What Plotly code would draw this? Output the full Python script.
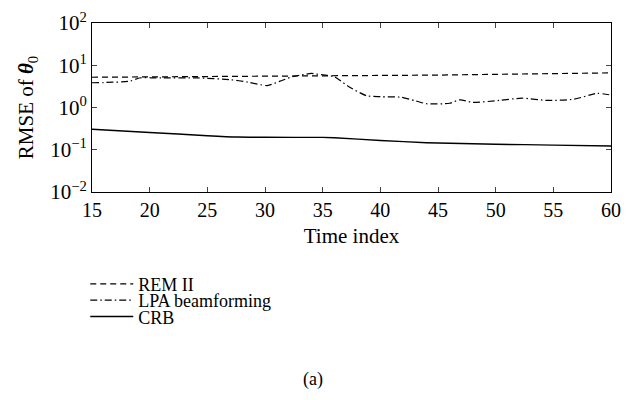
import plotly.graph_objects as go

t_rem = [15, 20, 25, 30, 35, 40, 45, 50, 55, 60]
rem = [5.2, 5.3, 5.35, 5.45, 5.5, 5.65, 5.85, 6.1, 6.35, 6.6]

t_lpa = [15, 16, 18.3, 19.1, 21, 24.2, 27, 28.5, 30.2, 31.3, 32.4, 33.2, 34.0, 35, 36, 37.2, 38.8,
         40, 41.8, 43, 44, 46, 46.9, 48, 50.3, 52.3, 54.5, 56.8, 58.8, 60]
lpa = [3.85, 3.9, 4.2, 5.0, 5.0, 5.0, 4.55, 4.0, 3.3, 4.2, 5.4, 5.9, 6.4, 5.9, 5.4, 3.2, 1.9,
       1.8, 1.75, 1.45, 1.23, 1.26, 1.52, 1.32, 1.47, 1.66, 1.47, 1.57, 2.16, 1.97]

t_crb = [15, 20, 25, 27.6, 30, 35, 36, 40, 44, 50, 55, 60]
crb = [0.305, 0.257, 0.215, 0.2, 0.197, 0.196, 0.193, 0.166, 0.147, 0.135, 0.129, 0.123]

x_ticks = [15, 20, 25, 30, 35, 40, 45, 50, 55, 60]
y_ticks = [0.01, 0.1, 1, 10, 100]
y_labels = ["10<sup>−2</sup>", "10<sup>−1</sup>", "10<sup>0</sup>", "10<sup>1</sup>", "10<sup>2</sup>"]
y_minor = [m * d for d in [0.01, 0.1, 1, 10] for m in range(2, 10)]

FONT = "Liberation Serif"
FS = 20

fig = go.Figure()
fig.add_trace(go.Scatter(x=t_rem, y=rem, mode="lines", name="REM II", legend="legend",
                         line=dict(color="black", width=1.2, dash="6px,4px")))
fig.add_trace(go.Scatter(x=t_lpa, y=lpa, mode="lines", name="LPA beamforming", legend="legend2",
                         line=dict(color="black", width=1.2, dash="7px,3px,1.5px,3px", shape="spline", smoothing=0.6)))
fig.add_trace(go.Scatter(x=t_crb, y=crb, mode="lines", name="CRB", legend="legend3",
                         line=dict(color="black", width=1.4, shape="spline", smoothing=0.6)))

PLOT_TOP, PLOT_BOT = 16, 192
def ypaper(px):
    return (PLOT_BOT - px) / (PLOT_BOT - PLOT_TOP)

leg_common = dict(x=-0.013, xanchor="left", yanchor="middle", bgcolor="rgba(0,0,0,0)",
                  font=dict(family=FONT, size=18), itemwidth=43)

fig.update_layout(
    width=630, height=400,
    margin=dict(l=92, r=9, t=PLOT_TOP, b=400 - PLOT_BOT),
    paper_bgcolor="white", plot_bgcolor="white",
    font=dict(family=FONT, size=FS, color="black"),
    showlegend=True,
    legend=dict(y=ypaper(288), **leg_common),
    legend2=dict(y=ypaper(305), **leg_common),
    legend3=dict(y=ypaper(322), **leg_common),
    annotations=[dict(text="(a)", xref="paper", yref="paper", x=(317 - 92) / 529, y=ypaper(387),
                      xanchor="center", yanchor="middle", showarrow=False,
                      font=dict(family=FONT, size=18))],
    yaxis2=dict(type="log", range=[-2, 2], overlaying="y", anchor="x", side="left",
                tickmode="array", tickvals=y_minor, showticklabels=False,
                ticks="inside", ticklen=3, tickwidth=1, tickcolor="black",
                showline=True, linecolor="black", linewidth=1, mirror="ticks",
                showgrid=False, zeroline=False),
)
fig.update_xaxes(range=[15, 60], tickvals=x_ticks, ticks="inside", ticklen=5,
                 showline=True, linecolor="black", linewidth=1, mirror="ticks",
                 showgrid=False, zeroline=False, tickfont=dict(size=FS),
                 title=dict(text="Time index", font=dict(size=FS + 1), standoff=8))
fig.update_layout(yaxis=dict(type="log", range=[-2, 2], tickmode="array", tickvals=y_ticks, ticktext=y_labels,
                 ticks="inside", ticklen=5,
                 showline=True, linecolor="black", linewidth=1, mirror="ticks",
                 showgrid=False, zeroline=False, tickfont=dict(size=FS + 1),
                 title=dict(text="RMSE of <b><i>θ</i></b><sub>0</sub>", font=dict(size=FS + 1), standoff=10)))

fig.write_html("out.html")
